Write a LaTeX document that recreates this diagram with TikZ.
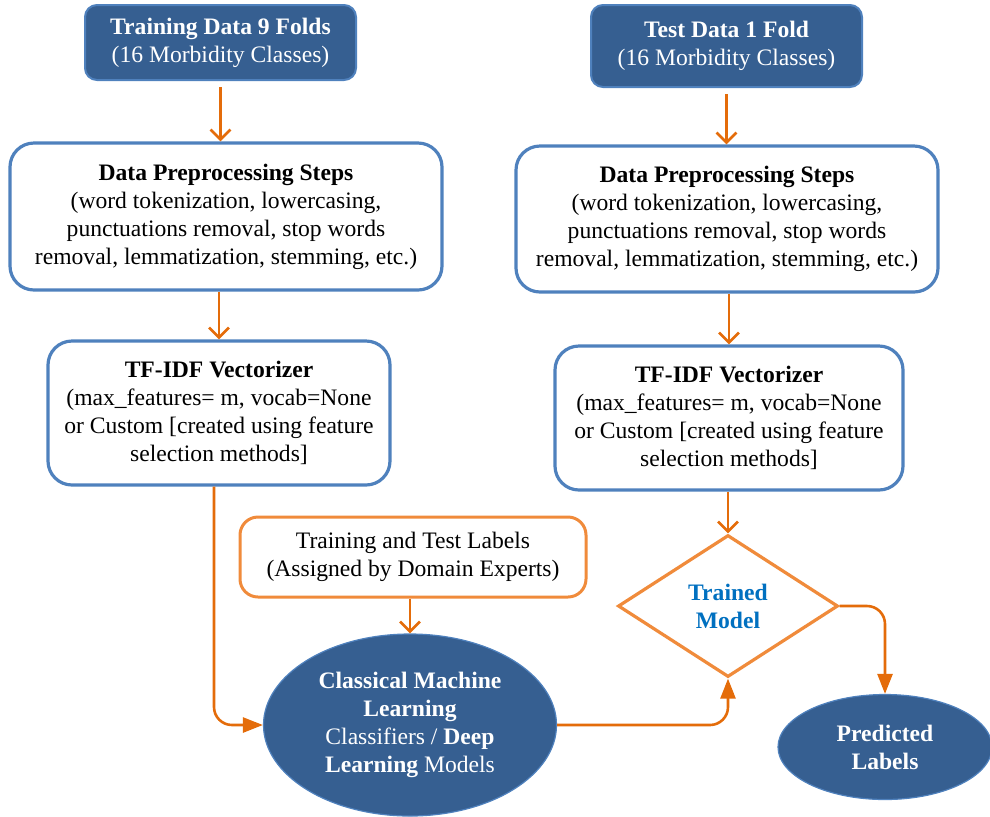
\documentclass[tikz,border=0pt]{standalone}
\usepackage{fontspec}
\setmainfont{Liberation Serif}
\usetikzlibrary{shapes.geometric,arrows.meta}
\definecolor{darkblue}{HTML}{365F91}
\definecolor{lineblue}{HTML}{4F81BD}
\definecolor{boxorange}{HTML}{F08B3B}
\definecolor{arroworange}{HTML}{E46C0A}
\definecolor{textblue}{HTML}{0070C0}
\begin{document}
\begin{tikzpicture}[x=0.5pt, y=-0.5pt,
		font=\fontsize{11.8}{14}\selectfont,
		foldbox/.style={rectangle, rounded corners=6pt, fill=darkblue, draw=lineblue, line width=1pt,
			text=white, align=center, inner sep=0pt},
		stepbox/.style={rectangle, rounded corners=12pt, draw=lineblue, line width=1.6pt,
			fill=white, align=center, inner sep=0pt},
		labelbox/.style={rectangle, rounded corners=9pt, draw=boxorange, line width=1.5pt,
			fill=white, align=center, inner sep=0pt},
		modelnode/.style={ellipse, fill=darkblue, draw=lineblue, line width=0.6pt,
			text=white, align=center, inner sep=0pt},
		decision/.style={diamond, draw=boxorange, line width=1.6pt, fill=white,
			align=center, inner sep=0pt, text=textblue},
		straightarrow/.style={arroworange, line width=1.3pt, -{Straight Barb[length=5pt, width=10pt]}},
		curvearrow/.style={arroworange, line width=1.3pt, rounded corners=9pt, -{Triangle[length=10pt, width=7.5pt]}}]
		\useasboundingbox (0, 0) rectangle (990, 816);

		% Training side
		\node[foldbox, minimum width=135.5pt, minimum height=37.5pt] (trainData) at (220.5, 42.5)
			{\textbf{Training Data 9 Folds}\\(16 Morbidity Classes)};
		\node[stepbox, minimum width=216pt, minimum height=73.5pt] (trainPrep) at (226, 216.5)
			{\textbf{Data Preprocessing Steps}\\(word tokenization, lowercasing,\\punctuations removal, stop words\\removal, lemmatization, stemming, etc.)};
		\node[stepbox, minimum width=171pt, minimum height=72pt] (trainVec) at (219, 413)
			{\textbf{TF-IDF Vectorizer}\\(max\_features= m, vocab=None\\or Custom [created using feature\\selection methods]};

		\draw[straightarrow, shorten <=3pt] (trainData) -- (trainData |- trainPrep.north);
		\draw[straightarrow] (trainPrep.south -| trainVec.north) -- (trainVec.north);

		% Test side
		\node[foldbox, minimum width=135.5pt, minimum height=41pt] (testData) at (726.5, 46)
			{\textbf{Test Data 1 Fold}\\(16 Morbidity Classes)};
		\node[stepbox, minimum width=211pt, minimum height=73pt] (testPrep) at (727, 219)
			{\textbf{Data Preprocessing Steps}\\(word tokenization, lowercasing,\\punctuations removal, stop words\\removal, lemmatization, stemming, etc.)};
		\node[stepbox, minimum width=174pt, minimum height=72pt] (testVec) at (729, 418)
			{\textbf{TF-IDF Vectorizer}\\(max\_features= m, vocab=None\\or Custom [created using feature\\selection methods]};

		\draw[straightarrow, shorten <=3pt] (testData) -- (testData |- testPrep.north);
		\draw[straightarrow] (testPrep.south -| testVec.north) -- (testVec.north);

		% Model
		\node[labelbox, minimum width=173pt, minimum height=40pt] (labels) at (413, 557)
			{Training and Test Labels\\(Assigned by Domain Experts)};
		\node[modelnode, minimum width=146.5pt, minimum height=91pt] (classifier) at (410, 725)
			{\textbf{Classical Machine}\\\textbf{Learning}\\Classifiers / \textbf{Deep}\\\textbf{Learning} Models};
		\node[decision, minimum width=110pt, minimum height=71pt] (trained) at (728, 606)
			{\textbf{Trained}\\\textbf{Model}};
		\node[modelnode, minimum width=107pt, minimum height=52.5pt] (predicted) at (885, 747)
			{\textbf{Predicted}\\\textbf{Labels}};

		\draw[straightarrow] (labels.south -| classifier.north) -- (classifier.north);
		\draw[curvearrow] ([xshift=-2.5pt]trainVec.south) |- (classifier.west);
		\draw[straightarrow] (testVec.south -| trained.north) -- (trained.north);
		\draw[curvearrow] (classifier.east) -| (trained.south);
		\draw[curvearrow] (trained.east) -| (predicted.north);
	\end{tikzpicture}
\end{document}
